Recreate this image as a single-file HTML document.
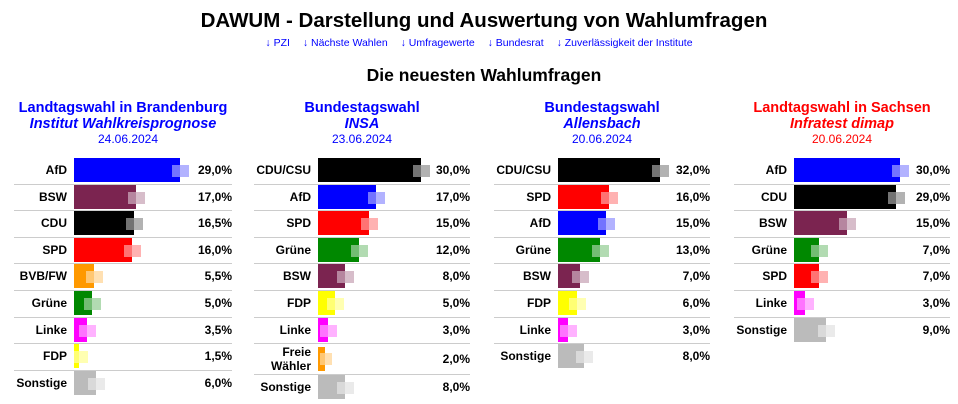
<!DOCTYPE html>
<html><head><meta charset="utf-8"><style>
body{margin:0;width:958px;height:404px;background:#fff;font-family:"Liberation Sans",Arial,sans-serif;position:relative;overflow:hidden}
.h1{position:absolute;left:0;width:968px;top:9px;text-align:center;font-size:20.5px;font-weight:bold;color:#000}
.links{position:absolute;left:0;width:958px;top:37px;text-align:center;font-size:10.5px;color:#00f}
.links span{margin:0 5px}
.h2{position:absolute;left:0;width:968px;top:65px;text-align:center;font-size:17.5px;font-weight:bold}
.col{position:absolute;top:100px}
.t{text-align:center;font-weight:bold;font-size:14.5px;line-height:16px}
.t i{display:block}
.d{text-align:center;font-size:12px;line-height:14px}
.rows{position:absolute;top:58px;left:0;right:0}
.r{position:relative;height:26.6px;box-sizing:border-box;border-bottom:1px solid #ccc}
.r:last-child{border-bottom:none}
.l{position:absolute;top:0;height:25px;line-height:25px;text-align:right;font-weight:bold;font-size:12px}
.b{position:absolute;top:0;height:24px}
.v{position:absolute;right:0;top:0;line-height:25px;font-weight:bold;font-size:12px}
.o1{position:absolute;top:7px;height:12px;width:8px;background:rgba(255,255,255,.45)}
.o2{position:absolute;top:7px;height:12px;width:9px;opacity:.3}
</style></head><body>
<div class="h1">DAWUM - Darstellung und Auswertung von Wahlumfragen</div>
<div class="links"><span>↓ PZI</span> <span>↓ Nächste Wahlen</span> <span>↓ Umfragewerte</span> <span>↓ Bundesrat</span> <span>↓ Zuverlässigkeit der Institute</span></div>
<div class="h2">Die neuesten Wahlumfragen</div>

<!-- Col 1 -->
<div class="col" style="left:14px;width:218px;color:#00f">
<div class="t" style="margin-left:-8px;margin-right:-8px">Landtagswahl in Brandenburg<i>Institut Wahlkreisprognose</i></div>
<div class="d" style="margin-right:-10px">24.06.2024</div>
<div class="rows" style="color:#000">
<div class="r"><div class="l" style="width:53px">AfD</div><div class="b" style="left:60px;width:106px;background:#00f"></div><div class="o1" style="left:158px"></div><div class="o2" style="left:166px;background:#00f"></div><div class="v">29,0%</div></div>
<div class="r"><div class="l" style="width:53px">BSW</div><div class="b" style="left:60px;width:62px;background:#7b2450"></div><div class="o1" style="left:114px"></div><div class="o2" style="left:122px;background:#7b2450"></div><div class="v">17,0%</div></div>
<div class="r"><div class="l" style="width:53px">CDU</div><div class="b" style="left:60px;width:60px;background:#000"></div><div class="o1" style="left:112px"></div><div class="o2" style="left:120px;background:#000"></div><div class="v">16,5%</div></div>
<div class="r"><div class="l" style="width:53px">SPD</div><div class="b" style="left:60px;width:58px;background:#f00"></div><div class="o1" style="left:110px"></div><div class="o2" style="left:118px;background:#f00"></div><div class="v">16,0%</div></div>
<div class="r"><div class="l" style="width:53px">BVB/FW</div><div class="b" style="left:60px;width:20px;background:#f90"></div><div class="o1" style="left:72px"></div><div class="o2" style="left:80px;background:#f90"></div><div class="v">5,5%</div></div>
<div class="r"><div class="l" style="width:53px">Grüne</div><div class="b" style="left:60px;width:18px;background:#080"></div><div class="o1" style="left:70px"></div><div class="o2" style="left:78px;background:#080"></div><div class="v">5,0%</div></div>
<div class="r"><div class="l" style="width:53px">Linke</div><div class="b" style="left:60px;width:13px;background:#f0f"></div><div class="o1" style="left:65px"></div><div class="o2" style="left:73px;background:#f0f"></div><div class="v">3,5%</div></div>
<div class="r"><div class="l" style="width:53px">FDP</div><div class="b" style="left:60px;width:5px;background:#ff0"></div><div class="o1" style="left:60px;width:5px"></div><div class="o2" style="left:65px;background:#ff0"></div><div class="v">1,5%</div></div>
<div class="r"><div class="l" style="width:53px">Sonstige</div><div class="b" style="left:60px;width:22px;background:#bbb"></div><div class="o1" style="left:74px"></div><div class="o2" style="left:82px;background:#bbb"></div><div class="v">6,0%</div></div>
</div></div>

<!-- Col 2 -->
<div class="col" style="left:254px;width:216px;color:#00f">
<div class="t" style="margin-left:-10px;margin-right:-10px">Bundestagswahl<i>INSA</i></div>
<div class="d">23.06.2024</div>
<div class="rows" style="color:#000">
<div class="r"><div class="l" style="width:57px">CDU/CSU</div><div class="b" style="left:64px;width:103px;background:#000"></div><div class="o1" style="left:159px"></div><div class="o2" style="left:167px;background:#000"></div><div class="v">30,0%</div></div>
<div class="r"><div class="l" style="width:57px">AfD</div><div class="b" style="left:64px;width:58px;background:#00f"></div><div class="o1" style="left:114px"></div><div class="o2" style="left:122px;background:#00f"></div><div class="v">17,0%</div></div>
<div class="r"><div class="l" style="width:57px">SPD</div><div class="b" style="left:64px;width:51px;background:#f00"></div><div class="o1" style="left:107px"></div><div class="o2" style="left:115px;background:#f00"></div><div class="v">15,0%</div></div>
<div class="r"><div class="l" style="width:57px">Grüne</div><div class="b" style="left:64px;width:41px;background:#080"></div><div class="o1" style="left:97px"></div><div class="o2" style="left:105px;background:#080"></div><div class="v">12,0%</div></div>
<div class="r"><div class="l" style="width:57px">BSW</div><div class="b" style="left:64px;width:27px;background:#7b2450"></div><div class="o1" style="left:83px"></div><div class="o2" style="left:91px;background:#7b2450"></div><div class="v">8,0%</div></div>
<div class="r"><div class="l" style="width:57px">FDP</div><div class="b" style="left:64px;width:17px;background:#ff0"></div><div class="o1" style="left:73px"></div><div class="o2" style="left:81px;background:#ff0"></div><div class="v">5,0%</div></div>
<div class="r"><div class="l" style="width:57px">Linke</div><div class="b" style="left:64px;width:10px;background:#f0f"></div><div class="o1" style="left:66px"></div><div class="o2" style="left:74px;background:#f0f"></div><div class="v">3,0%</div></div>
<div class="r" style="height:31px"><div class="l" style="width:57px;line-height:14px;height:30px;top:1px">Freie<br>Wähler</div><div class="b" style="left:64px;width:7px;top:3px;height:24px;background:#f90"></div><div class="o1" style="left:66px;width:5px;top:9px"></div><div class="o2" style="left:71px;top:9px;width:7px;background:#f90"></div><div class="v" style="line-height:30px">2,0%</div></div>
<div class="r"><div class="l" style="width:57px">Sonstige</div><div class="b" style="left:64px;width:27px;background:#bbb"></div><div class="o1" style="left:83px"></div><div class="o2" style="left:91px;background:#bbb"></div><div class="v">8,0%</div></div>
</div></div>

<!-- Col 3 -->
<div class="col" style="left:494px;width:216px;color:#00f">
<div class="t" style="margin-left:-10px;margin-right:-10px">Bundestagswahl<i>Allensbach</i></div>
<div class="d">20.06.2024</div>
<div class="rows" style="color:#000">
<div class="r"><div class="l" style="width:57px">CDU/CSU</div><div class="b" style="left:64px;width:102px;background:#000"></div><div class="o1" style="left:158px"></div><div class="o2" style="left:166px;background:#000"></div><div class="v">32,0%</div></div>
<div class="r"><div class="l" style="width:57px">SPD</div><div class="b" style="left:64px;width:51px;background:#f00"></div><div class="o1" style="left:107px"></div><div class="o2" style="left:115px;background:#f00"></div><div class="v">16,0%</div></div>
<div class="r"><div class="l" style="width:57px">AfD</div><div class="b" style="left:64px;width:48px;background:#00f"></div><div class="o1" style="left:104px"></div><div class="o2" style="left:112px;background:#00f"></div><div class="v">15,0%</div></div>
<div class="r"><div class="l" style="width:57px">Grüne</div><div class="b" style="left:64px;width:42px;background:#080"></div><div class="o1" style="left:98px"></div><div class="o2" style="left:106px;background:#080"></div><div class="v">13,0%</div></div>
<div class="r"><div class="l" style="width:57px">BSW</div><div class="b" style="left:64px;width:22px;background:#7b2450"></div><div class="o1" style="left:78px"></div><div class="o2" style="left:86px;background:#7b2450"></div><div class="v">7,0%</div></div>
<div class="r"><div class="l" style="width:57px">FDP</div><div class="b" style="left:64px;width:19px;background:#ff0"></div><div class="o1" style="left:75px"></div><div class="o2" style="left:83px;background:#ff0"></div><div class="v">6,0%</div></div>
<div class="r"><div class="l" style="width:57px">Linke</div><div class="b" style="left:64px;width:10px;background:#f0f"></div><div class="o1" style="left:66px"></div><div class="o2" style="left:74px;background:#f0f"></div><div class="v">3,0%</div></div>
<div class="r"><div class="l" style="width:57px">Sonstige</div><div class="b" style="left:64px;width:26px;background:#bbb"></div><div class="o1" style="left:82px"></div><div class="o2" style="left:90px;background:#bbb"></div><div class="v">8,0%</div></div>
</div></div>

<!-- Col 4 -->
<div class="col" style="left:734px;width:216px;color:#f00">
<div class="t" style="margin-left:-10px;margin-right:-10px">Landtagswahl in Sachsen<i>Infratest dimap</i></div>
<div class="d">20.06.2024</div>
<div class="rows" style="color:#000">
<div class="r"><div class="l" style="width:53px">AfD</div><div class="b" style="left:60px;width:106px;background:#00f"></div><div class="o1" style="left:158px"></div><div class="o2" style="left:166px;background:#00f"></div><div class="v">30,0%</div></div>
<div class="r"><div class="l" style="width:53px">CDU</div><div class="b" style="left:60px;width:102px;background:#000"></div><div class="o1" style="left:154px"></div><div class="o2" style="left:162px;background:#000"></div><div class="v">29,0%</div></div>
<div class="r"><div class="l" style="width:53px">BSW</div><div class="b" style="left:60px;width:53px;background:#7b2450"></div><div class="o1" style="left:105px"></div><div class="o2" style="left:113px;background:#7b2450"></div><div class="v">15,0%</div></div>
<div class="r"><div class="l" style="width:53px">Grüne</div><div class="b" style="left:60px;width:25px;background:#080"></div><div class="o1" style="left:77px"></div><div class="o2" style="left:85px;background:#080"></div><div class="v">7,0%</div></div>
<div class="r"><div class="l" style="width:53px">SPD</div><div class="b" style="left:60px;width:25px;background:#f00"></div><div class="o1" style="left:77px"></div><div class="o2" style="left:85px;background:#f00"></div><div class="v">7,0%</div></div>
<div class="r"><div class="l" style="width:53px">Linke</div><div class="b" style="left:60px;width:11px;background:#f0f"></div><div class="o1" style="left:63px"></div><div class="o2" style="left:71px;background:#f0f"></div><div class="v">3,0%</div></div>
<div class="r"><div class="l" style="width:53px">Sonstige</div><div class="b" style="left:60px;width:32px;background:#bbb"></div><div class="o1" style="left:84px"></div><div class="o2" style="left:92px;background:#bbb"></div><div class="v">9,0%</div></div>
</div></div>
</body></html>
